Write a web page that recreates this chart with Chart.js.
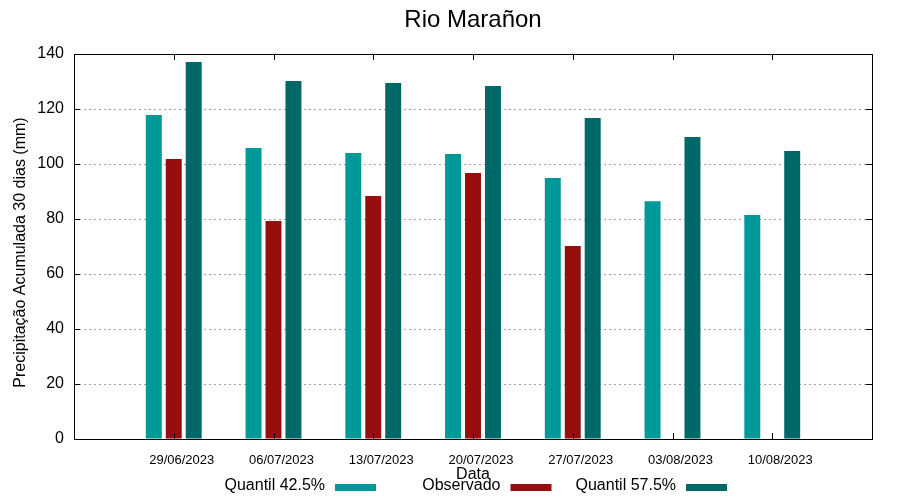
<!DOCTYPE html>
<html>
<head>
<meta charset="utf-8">
<script src="https://cdn.jsdelivr.net/npm/chart.js@4/dist/chart.umd.min.js"></script>
<style>
  html, body { margin: 0; padding: 0; background: #fff; }
</style>
</head>
<body>
<canvas id="chart" width="900" height="500"></canvas>
<script>
'use strict';

// Values
const dates = ['29/06/2023', '06/07/2023', '13/07/2023', '20/07/2023', '27/07/2023', '03/08/2023', '10/08/2023'];
const quantil425 = [117.8, 105.8, 104.0, 103.6, 94.9, 86.5, 81.5];
const observado = [101.8, 79.3, 88.4, 96.7, 70.2, null, null];
const quantil575 = [137.1, 130.2, 129.5, 128.4, 116.7, 109.8, 104.7];
const yTicks = [0, 20, 40, 60, 80, 100, 120, 140];

const chartTitle = 'Rio Marañon';
const yTitle = 'Precipitação Acumulada 30 dias (mm)';

const FONT = '"Liberation Sans", Arial, sans-serif';
Chart.defaults.font.family = FONT;
Chart.defaults.color = '#000';

const toPoints = values => values.map((y, i) => ({ x: i, y }));

// gnuplot style frame with inward ticks on all four sides, plus titles
const framePlugin = {
  id: 'frame',
  afterDatasetsDraw(chart) {
    const { ctx, chartArea: { left, right, top, bottom } } = chart;
    const xs = chart.scales.x;
    const ys = chart.scales.y;
    ctx.save();
    ctx.strokeStyle = '#000';
    ctx.lineWidth = 1;
    ctx.beginPath();
    for (const v of yTicks) {
      const y = Math.round(ys.getPixelForValue(v)) + 0.5;
      ctx.moveTo(left, y); ctx.lineTo(left + 6, y);
      ctx.moveTo(right, y); ctx.lineTo(right - 6, y);
    }
    dates.forEach((_, i) => {
      const x = Math.round(xs.getPixelForValue(i)) + 0.5;
      ctx.moveTo(x, bottom); ctx.lineTo(x, bottom - 6);
      ctx.moveTo(x, top); ctx.lineTo(x, top + 6);
    });
    ctx.stroke();
    ctx.strokeRect(Math.round(left) + 0.5, Math.round(top) + 0.5,
      Math.round(right - left), Math.round(bottom - top));

    // title centred over the plot area
    ctx.fillStyle = '#000';
    ctx.textAlign = 'center';
    ctx.textBaseline = 'alphabetic';
    ctx.font = `24px ${FONT}`;
    ctx.fillText(chartTitle, (left + right) / 2, 27);

    // y axis title, a bit below the plot centre like gnuplot
    ctx.font = `16px ${FONT}`;
    ctx.translate(25, (top + bottom) / 2 + 6);
    ctx.rotate(-Math.PI / 2);
    ctx.fillText(yTitle, 0, 0);
    ctx.restore();
  }
};

// gnuplot style key: text first, then a sample bar
const keyPlugin = {
  id: 'key',
  afterDraw(chart) {
    const { ctx } = chart;
    ctx.save();
    ctx.font = `16px ${FONT}`;
    ctx.textAlign = 'right';
    ctx.textBaseline = 'middle';
    chart.data.datasets.forEach((ds, i) => {
      const boxX = 335 + i * 175.5;
      ctx.fillStyle = '#000';
      ctx.fillText(ds.label, boxX - 10, 486);
      ctx.fillStyle = ds.backgroundColor;
      ctx.fillRect(boxX, 484, 41, 7);
    });
    ctx.restore();
  }
};

new Chart(document.getElementById('chart'), {
  type: 'bar',
  data: {
    datasets: [
      { label: 'Quantil 42.5%', data: toPoints(quantil425), backgroundColor: '#009999' },
      { label: 'Observado', data: toPoints(observado), backgroundColor: '#970e0e' },
      { label: 'Quantil 57.5%', data: toPoints(quantil575), backgroundColor: '#006868' },
    ],
  },
  options: {
    responsive: false,
    animation: false,
    events: [],
    categoryPercentage: 0.6,
    barPercentage: 0.8,
    layout: { padding: { top: 54, right: 28, left: 0, bottom: 0 } },
    plugins: {
      legend: { display: false },
      tooltip: { enabled: false },
      title: { display: false },
    },
    scales: {
      x: {
        type: 'linear',
        offset: false,
        min: -1,
        max: 7,
        grid: { display: false, drawTicks: false, offset: false },
        border: { display: false },
        ticks: {
          stepSize: 1,
          autoSkip: false,
          maxRotation: 0,
          padding: 14,
          labelOffset: 8,
          font: { size: 13 },
          callback: v => dates[v] || '',
        },
        title: {
          display: true,
          text: 'Data',
          font: { size: 16 },
          padding: { top: 0, bottom: 16 },
        },
        afterFit: scale => { scale.height = 61; },
      },
      y: {
        min: 0,
        max: 140,
        grid: {
          drawTicks: false,
          lineWidth: 1,
          color: ctx => (ctx.tick && (ctx.tick.value === 0 || ctx.tick.value === 140)) ? 'rgba(0,0,0,0)' : '#a0a0a0',
        },
        border: { display: false, dash: [2, 3] },
        ticks: {
          stepSize: 20,
          padding: 10,
          font: { size: 16 },
        },
        afterFit: scale => { scale.width = 74; },
      },
    },
  },
  plugins: [framePlugin, keyPlugin],
});
</script>
</body>
</html>
